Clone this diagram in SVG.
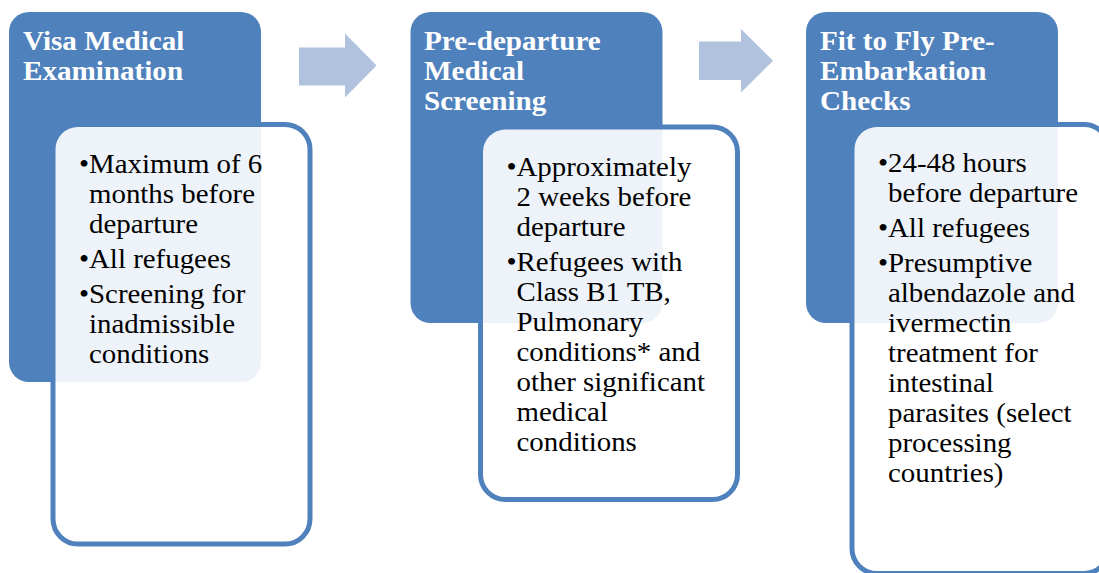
<svg xmlns="http://www.w3.org/2000/svg" width="1099" height="573" viewBox="0 0 1099 573">
<style>
.hdr{fill:#4F81BD}
.card{fill:#FFFFFF;fill-opacity:0.9;stroke:#4F81BD;stroke-width:5}
.ht{font-family:"Liberation Serif","Times New Roman",serif;font-weight:bold;font-size:28px;fill:#FFFFFF}
.bt{font-family:"Liberation Serif","Times New Roman",serif;font-size:27px;fill:#000000}
.arr{fill:#B0C2DE}
</style>
<rect width="1099" height="573" fill="#FFFFFF"/>
<g id="connectors">
<polygon class="arr" points="299,47.5 345,47.5 345,33.5 376.5,65.5 345,97.5 345,85.5 299,85.5"/>
<polygon class="arr" points="699,41.5 741,41.5 741,29 773,60.7 741,92.5 741,80 699,80"/>
</g>
<g id="node-visa">
<rect class="hdr" x="9" y="12" width="252" height="370" rx="20"/>
<rect class="card" x="53" y="124.5" width="257" height="419.5" rx="25"/>
<g transform="translate(23,0) scale(1.04,1)">
<text class="ht" x="0" y="50">Visa Medical</text>
<text class="ht" x="0" y="80">Examination</text>
</g>
<g transform="translate(89,0) scale(1.07,1)">
<text class="bt" x="-9.45" y="173">•Maximum of 6</text>
<text class="bt" x="0" y="203">months before</text>
<text class="bt" x="0" y="233">departure</text>
<text class="bt" x="-9.45" y="268">•All refugees</text>
<text class="bt" x="-9.45" y="303">•Screening for</text>
<text class="bt" x="0" y="333">inadmissible</text>
<text class="bt" x="0" y="363">conditions</text>
</g>
</g>
<g id="node-predeparture">
<rect class="hdr" x="410.5" y="12" width="252" height="311" rx="20"/>
<rect class="card" x="480.5" y="127" width="257" height="372.5" rx="25"/>
<g transform="translate(424,0) scale(1.04,1)">
<text class="ht" x="0" y="50">Pre-departure</text>
<text class="ht" x="0" y="80">Medical</text>
<text class="ht" x="0" y="110">Screening</text>
</g>
<g transform="translate(516.5,0) scale(1.07,1)">
<text class="bt" x="-9.45" y="176">•Approximately</text>
<text class="bt" x="0" y="206">2 weeks before</text>
<text class="bt" x="0" y="236">departure</text>
<text class="bt" x="-9.45" y="271">•Refugees with</text>
<text class="bt" x="0" y="301">Class B1 TB,</text>
<text class="bt" x="0" y="331">Pulmonary</text>
<text class="bt" x="0" y="361">conditions* and</text>
<text class="bt" x="0" y="391">other significant</text>
<text class="bt" x="0" y="421">medical</text>
<text class="bt" x="0" y="451">conditions</text>
</g>
</g>
<g id="node-fittofly">
<rect class="hdr" x="806" y="12" width="252" height="311" rx="20"/>
<rect class="card" x="852" y="124.5" width="257" height="449" rx="25"/>
<g transform="translate(820,0) scale(1.04,1)">
<text class="ht" x="0" y="50">Fit to Fly Pre-</text>
<text class="ht" x="0" y="80">Embarkation</text>
<text class="ht" x="0" y="110">Checks</text>
</g>
<g transform="translate(888,0) scale(1.07,1)">
<text class="bt" x="-9.45" y="172">•24-48 hours</text>
<text class="bt" x="0" y="202">before departure</text>
<text class="bt" x="-9.45" y="237">•All refugees</text>
<text class="bt" x="-9.45" y="272">•Presumptive</text>
<text class="bt" x="0" y="302">albendazole and</text>
<text class="bt" x="0" y="332">ivermectin</text>
<text class="bt" x="0" y="362">treatment for</text>
<text class="bt" x="0" y="392">intestinal</text>
<text class="bt" x="0" y="422">parasites (select</text>
<text class="bt" x="0" y="452">processing</text>
<text class="bt" x="0" y="482">countries)</text>
</g>
</g>
</svg>
